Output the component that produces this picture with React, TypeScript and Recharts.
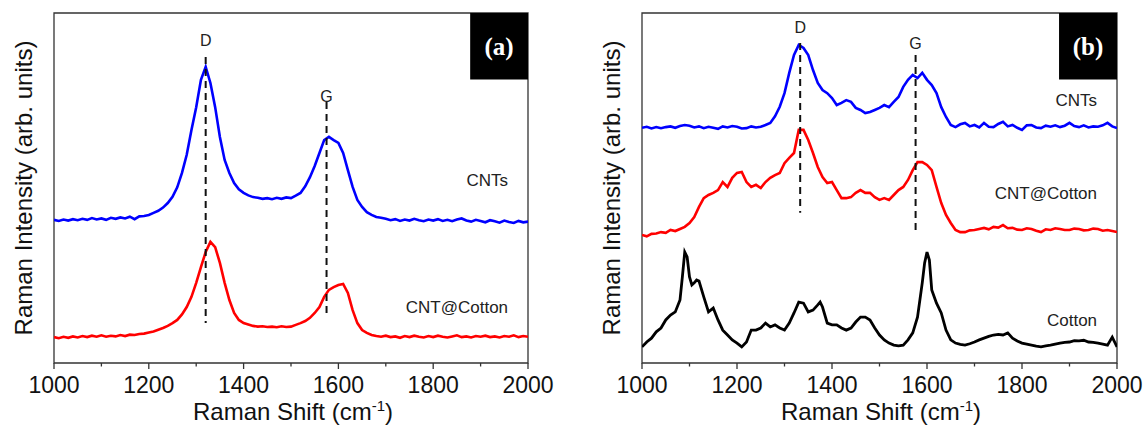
import React from "react";
import {
  LineChart,
  Line,
  XAxis,
  YAxis,
  ReferenceArea,
  ReferenceLine,
  ReferenceDot,
} from "recharts";

// Raman shift grid (cm-1) used by the noisy spectra
const shift = [
  1000, 1010, 1020, 1030, 1040, 1050, 1060, 1070, 1080, 1090,
  1100, 1110, 1120, 1130, 1140, 1150, 1160, 1170, 1180, 1190,
  1200, 1210, 1220, 1230, 1240, 1250, 1260, 1270, 1280, 1290,
  1300, 1310, 1320, 1330, 1340, 1350, 1360, 1370, 1380, 1390,
  1400, 1410, 1420, 1430, 1440, 1450, 1460, 1470, 1480, 1490,
  1500, 1510, 1520, 1530, 1540, 1550, 1560, 1570, 1580, 1590,
  1600, 1610, 1620, 1630, 1640, 1650, 1660, 1670, 1680, 1690,
  1700, 1710, 1720, 1730, 1740, 1750, 1760, 1770, 1780, 1790,
  1800, 1810, 1820, 1830, 1840, 1850, 1860, 1870, 1880, 1890,
  1900, 1910, 1920, 1930, 1940, 1950, 1960, 1970, 1980, 1990,
  2000,
];

// panel (a)
const cntsA = [
  40.9, 40.6, 41.0, 40.7, 41.1, 40.8, 41.2, 40.9, 41.4, 41.0,
  41.3, 40.9, 41.5, 41.2, 41.6, 41.3, 41.8, 41.1, 41.9, 42.0,
  42.3, 42.9, 43.5, 44.4, 45.7, 47.5, 50.2, 54.3, 59.5, 66.6,
  73.1, 80.9, 84.6, 80.0, 73.1, 64.6, 58.0, 54.3, 51.4, 49.6,
  48.6, 47.9, 47.4, 47.2, 46.9, 47.1, 46.8, 47.2, 46.9, 47.3,
  47.1, 47.8, 48.6, 50.5, 53.1, 56.3, 60.0, 63.7, 64.6, 63.7,
  62.9, 60.0, 55.1, 50.3, 46.6, 44.6, 43.1, 42.3, 41.7, 41.5,
  41.2, 40.8, 41.1, 40.6, 41.0, 40.7, 41.2, 40.8, 40.5, 41.0,
  40.7, 41.1, 40.6, 40.9, 40.5, 41.0, 41.3, 40.7, 40.4, 40.9,
  40.6, 40.2, 40.8, 40.5, 40.1, 40.7, 40.3, 40.0, 40.6, 40.2,
  40.4,
];
const cntCottonA = [
  7.4, 7.1, 7.5, 7.2, 7.6, 7.3, 7.7, 7.4, 7.8, 7.5,
  7.9, 7.5, 7.8, 7.6, 8.0, 7.7, 8.1, 8.0, 8.3, 8.4,
  8.7, 9.0, 9.5, 10.0, 10.6, 11.4, 12.3, 13.9, 16.0, 18.9,
  22.9, 27.4, 31.7, 34.6, 33.1, 28.6, 22.9, 18.0, 14.3, 12.3,
  11.4, 11.0, 10.6, 10.4, 10.5, 10.3, 10.4, 10.2, 10.5, 10.3,
  10.4, 10.9, 11.4, 12.0, 12.9, 14.3, 16.0, 18.9, 20.9, 21.7,
  22.3, 22.6, 20.0, 15.1, 11.4, 9.4, 8.6, 8.0, 7.7, 7.5,
  7.8, 7.4, 7.6, 7.2, 7.7, 7.4, 7.8, 7.5, 7.3, 7.7,
  7.4, 7.8, 7.5, 7.3, 7.6, 7.9, 7.4, 7.6, 7.3, 7.7,
  7.5, 7.8, 7.4, 7.6, 7.3, 7.7, 7.5, 7.9, 7.4, 7.7,
  7.5,
];

// panel (b)
const cntsB = [
  67.2, 67.5, 67.0, 67.4, 67.1, 67.4, 67.6, 67.2, 67.7, 68.0,
  67.8, 67.3, 67.6, 67.1, 67.5, 67.2, 66.9, 67.6, 67.3, 67.7,
  67.5, 67.0, 67.1, 67.6, 67.3, 67.5, 68.0, 68.6, 70.5, 73.2,
  77.1, 82.9, 88.0, 90.9, 90.0, 88.0, 83.7, 80.0, 78.0, 77.1,
  75.7, 73.7, 74.3, 75.1, 74.6, 72.9, 72.3, 71.4, 71.7, 72.3,
  72.9, 73.7, 73.1, 74.6, 76.0, 78.9, 80.9, 82.3, 81.4, 82.9,
  80.9, 79.4, 77.1, 73.1, 70.3, 68.0, 67.4, 68.2, 68.6, 67.6,
  68.0, 67.3, 68.6, 67.5, 67.4, 68.3, 68.9, 67.6, 68.0, 67.2,
  66.6, 67.9, 68.0, 67.3, 67.1, 67.8, 67.5, 67.9, 67.4, 67.8,
  68.6, 67.7, 67.4, 67.9, 67.3, 67.6, 67.5, 67.9, 68.6, 67.6,
  67.1,
];
const cntCottonB = [
  36.6, 36.2, 36.9, 37.0, 37.4, 37.2, 38.0, 37.7, 38.3, 38.9,
  40.0, 41.7, 44.6, 47.1, 48.0, 48.6, 49.4, 51.7, 50.3, 52.9,
  54.3, 54.6, 51.7, 50.3, 50.9, 50.0, 51.7, 52.9, 53.7, 54.3,
  57.1, 58.6, 60.0, 66.6, 66.6, 63.7, 60.0, 56.0, 53.1, 51.4,
  51.7, 49.4, 47.1, 47.1, 47.4, 48.6, 49.4, 48.6, 48.6, 47.4,
  46.6, 47.1, 46.6, 48.0, 49.4, 50.3, 52.3, 55.1, 57.4, 57.4,
  56.6, 55.1, 50.3, 45.7, 42.3, 40.0, 38.0, 37.4, 37.4, 37.9,
  38.0, 38.3, 38.6, 38.2, 38.9, 38.7, 39.4, 38.5, 38.6, 38.1,
  38.0, 38.5, 38.3, 37.8, 37.4, 38.2, 38.0, 38.5, 38.3, 38.0,
  38.0, 38.4, 38.3, 37.9, 38.0, 38.4, 38.3, 37.8, 38.0, 37.7,
  37.4,
];

// cotton spectrum has a few extra points on its sharp peaks
const cottonShift = [
  1000, 1010, 1020, 1030, 1040, 1050, 1060, 1070, 1080, 1085,
  1090, 1095, 1100, 1105, 1110, 1115, 1120, 1130, 1140, 1150,
  1160, 1170, 1180, 1190, 1200, 1210, 1220, 1230, 1240, 1250,
  1260, 1270, 1280, 1290, 1300, 1310, 1320, 1330, 1340, 1350,
  1360, 1370, 1375, 1380, 1390, 1400, 1410, 1420, 1430, 1440,
  1450, 1460, 1470, 1480, 1490, 1500, 1510, 1520, 1530, 1540,
  1550, 1560, 1570, 1580, 1590, 1595, 1600, 1605, 1610, 1620,
  1630, 1640, 1650, 1660, 1670, 1680, 1690, 1700, 1710, 1720,
  1730, 1740, 1750, 1760, 1770, 1780, 1790, 1800, 1810, 1820,
  1830, 1840, 1850, 1860, 1870, 1880, 1890, 1900, 1910, 1920,
  1930, 1940, 1950, 1960, 1970, 1980, 1990, 2000,
];
const cottonB = [
  4.6, 6.0, 7.1, 8.9, 10.0, 12.3, 13.7, 14.6, 18.0, 24.6,
  31.7, 30.3, 24.6, 22.3, 22.9, 23.7, 23.4, 18.9, 14.6, 15.7,
  12.3, 9.4, 8.0, 6.6, 5.7, 4.6, 6.0, 9.4, 9.4, 10.0,
  11.4, 10.3, 10.9, 10.0, 9.4, 11.4, 14.3, 17.4, 17.1, 14.6,
  15.1, 16.6, 17.4, 16.0, 11.4, 10.9, 10.9, 10.0, 9.4, 10.0,
  11.7, 13.1, 13.1, 12.3, 10.0, 8.0, 6.6, 5.7, 5.1, 4.9,
  5.1, 6.6, 8.6, 13.1, 22.9, 28.6, 31.7, 29.4, 20.9, 17.1,
  14.3, 9.4, 6.6, 5.7, 5.3, 5.1, 5.5, 6.0, 6.6, 7.1,
  7.6, 8.0, 8.2, 8.0, 8.6, 7.1, 6.3, 5.7, 5.4, 5.1,
  4.8, 4.6, 4.9, 5.1, 5.4, 5.7, 5.9, 6.0, 6.4, 6.3,
  6.5, 6.0, 5.9, 5.7, 5.4, 5.1, 7.4, 4.6,
];

const shiftTicks = [1000, 1100, 1200, 1300, 1400, 1500, 1600, 1700, 1800, 1900, 2000];

// peak markers: position, dashed span, label height
const peaksA = [
  { name: "D", x: 1320, top: 87.4, bottom: 11.4, labelY: 92.3 },
  { name: "G", x: 1575, top: 74.6, bottom: 12.9, labelY: 76.3 },
];
const peaksB = [
  { name: "D", x: 1333, top: 91.4, bottom: 42.9, labelY: 96.0 },
  { name: "G", x: 1576, top: 88.0, bottom: 37.4, labelY: 91.4 },
];

const namesA = [
  { text: "CNTs", y: 52.3 },
  { text: "CNT@Cotton", y: 16.0 },
];
const namesB = [
  { text: "CNTs", y: 75.1 },
  { text: "CNT@Cotton", y: 48.6 },
  { text: "Cotton", y: 12.3 },
];

const FONT = "'Liberation Sans', Arial, Helvetica, sans-serif";

const rowsA = shift.map((x, i) => ({ x, cnts: cntsA[i], cntCotton: cntCottonA[i] }));
const rowsB = shift.map((x, i) => ({ x, cnts: cntsB[i], cntCotton: cntCottonB[i] }));
const cottonRows = cottonShift.map((x, i) => ({ x, cotton: cottonB[i] }));

function ShiftTick({ x, y, payload }: any) {
  const major = payload.value % 200 === 0;
  return (
    <g>
      <line x1={x} x2={x} y1={y} y2={y + (major ? 6 : 3.5)} stroke="#333" strokeWidth={1.3} />
      {major && (
        <text x={x} y={y + 30} textAnchor="middle" fontSize={23} fill="#111" fontFamily={FONT}>
          {payload.value}
        </text>
      )}
    </g>
  );
}

const textAt =
  (text: string, anchor: "middle" | "end", size: number) =>
  ({ viewBox }: any) => {
    const cx = viewBox.x + viewBox.width / 2;
    const cy = viewBox.y + viewBox.height / 2;
    return (
      <text x={cx} y={cy} dy="0.36em" textAnchor={anchor} fontSize={size} fill="#222" fontFamily={FONT}>
        {text}
      </text>
    );
  };

const tagLabel =
  (text: string) =>
  ({ viewBox }: any) => (
    <text
      x={viewBox.x + viewBox.width / 2}
      y={viewBox.y + viewBox.height / 2}
      dy="0.34em"
      textAnchor="middle"
      fontSize={25}
      fontWeight="bold"
      fill="#fff"
      fontFamily="'Liberation Serif', 'Times New Roman', serif"
    >
      {text}
    </text>
  );

function Panel({
  left,
  width,
  marginLeft,
  marginRight,
  rows,
  peaks,
  names,
  tag,
  withCotton,
}: any) {
  return (
    <div style={{ position: "absolute", left, top: 0, width, height: 427 }}>
      <LineChart
        width={width}
        height={427}
        data={rows}
        margin={{ top: 13, right: marginRight, left: marginLeft, bottom: 0 }}
      >
        <XAxis
          dataKey="x"
          type="number"
          domain={[1000, 2000]}
          ticks={shiftTicks}
          interval={0}
          height={64}
          axisLine={false}
          tickLine={false}
          tickSize={0}
          tickMargin={0}
          tick={<ShiftTick />}
          allowDataOverflow
        />
        <YAxis hide domain={[0, 100]} type="number" allowDataOverflow />
        <ReferenceArea x1={1000} x2={2000} y1={0} y2={100} fill="none" stroke="#333" strokeWidth={1.3} />
        <Line dataKey="cnts" stroke="#0000ff" strokeWidth={2.6} dot={false} isAnimationActive={false} />
        <Line dataKey="cntCotton" stroke="#ff0000" strokeWidth={2.6} dot={false} isAnimationActive={false} />
        {withCotton && (
          <Line
            data={cottonRows}
            dataKey="cotton"
            stroke="#000"
            strokeWidth={2.8}
            dot={false}
            isAnimationActive={false}
          />
        )}
        {peaks.map((p: any) => (
          <ReferenceLine
            key={p.name}
            segment={[
              { x: p.x, y: p.top },
              { x: p.x, y: p.bottom },
            ]}
            stroke="#111"
            strokeWidth={2}
            strokeDasharray="7 5"
          />
        ))}
        {peaks.map((p: any) => (
          <ReferenceDot
            key={"l" + p.name}
            x={p.x}
            y={p.labelY}
            r={1}
            fill="none"
            stroke="none"
            label={textAt(p.name, "middle", 16)}
          />
        ))}
        {names.map((n: any) => (
          <ReferenceDot
            key={n.text}
            x={1958}
            y={n.y}
            r={1}
            fill="none"
            stroke="none"
            label={textAt(n.text, "end", 17)}
          />
        ))}
        <ReferenceArea x1={1878} x2={2000} y1={81} y2={100} fill="#000" fillOpacity={1} stroke="none" label={tagLabel(tag)} />
      </LineChart>
      <div
        style={{
          position: "absolute",
          left: 24,
          top: 188,
          transform: "translate(-50%, -50%) rotate(-90deg)",
          whiteSpace: "nowrap",
          fontFamily: FONT,
          fontSize: 24,
          lineHeight: "24px",
          color: "#111",
        }}
      >
        Raman Intensity (arb. units)
      </div>
      <div
        style={{
          position: "absolute",
          left: marginLeft + 239,
          top: 411.5,
          transform: "translate(-50%, -50%)",
          whiteSpace: "nowrap",
          fontFamily: FONT,
          fontSize: 24,
          lineHeight: "18px",
          color: "#111",
        }}
      >
        Raman Shift (cm
        <span style={{ fontSize: 15, verticalAlign: "9px", lineHeight: 0 }}>-1</span>)
      </div>
    </div>
  );
}

export default function App() {
  return (
    <div style={{ position: "absolute", left: 0, top: 0, width: 1143, height: 427, background: "#fff" }}>
      <Panel left={0} width={570} marginLeft={54} marginRight={42} rows={rowsA} peaks={peaksA} names={namesA} tag="(a)" />
      <Panel
        left={588}
        width={555}
        marginLeft={54}
        marginRight={26}
        rows={rowsB}
        peaks={peaksB}
        names={namesB}
        tag="(b)"
        withCotton
      />
    </div>
  );
}
